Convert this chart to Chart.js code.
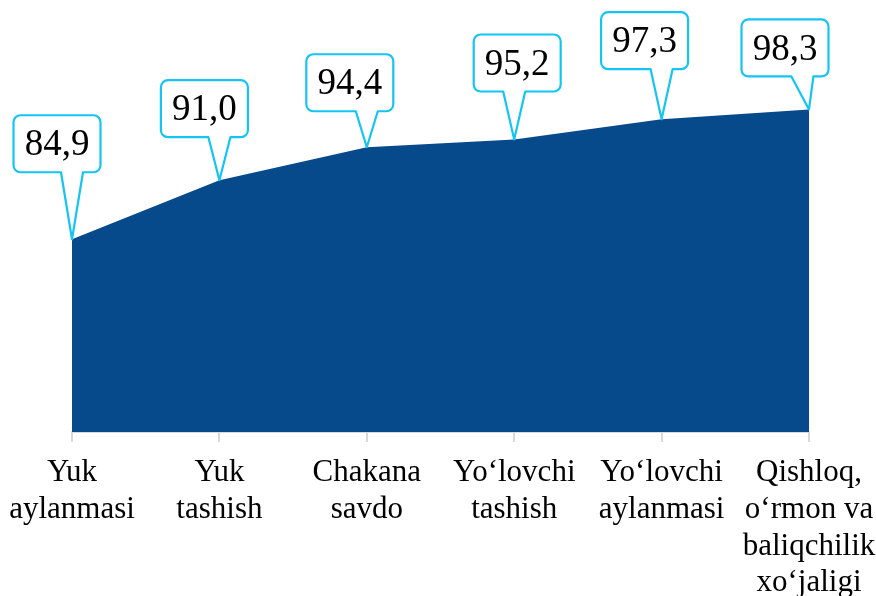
<!DOCTYPE html>
<html>
<head>
    <meta charset="UTF-8">
    <title>Area chart</title>
    <script src="https://cdn.jsdelivr.net/npm/chart.js"></script>
    <style>
        body {
            margin: 0;
            padding: 0;
            background: #ffffff;
            font-family: 'Liberation Serif', serif;
        }
        #wrap {
            width: 876px;
            height: 596px;
            position: relative;
        }
    </style>
</head>
<body>
    <div id="wrap">
        <canvas id="areaChart"></canvas>
    </div>

    <script>
        // data
        const categories = [
            ['Yuk', 'aylanmasi'],
            ['Yuk', 'tashish'],
            ['Chakana', 'savdo'],
            ['Yo\u2018lovchi', 'tashish'],
            ['Yo\u2018lovchi', 'aylanmasi'],
            ['Qishloq,', 'o\u2018rmon va', 'baliqchilik', 'xo\u2018jaligi']
        ];
        const values = [84.9, 91.0, 94.4, 95.2, 97.3, 98.3];

        // callout placement relative to its point: [box centre dx, box bottom dy]
        const calloutOffsets = [[-15, -67], [-15, -43], [-17, -36], [3, -48], [-17, -50], [-24, -33]];

        const serif = "'Liberation Serif', 'Times New Roman', serif";
        const fillBlue = '#074a8c';
        const calloutBlue = '#14c4f4';

        const calloutPlugin = {
            id: 'callouts',
            afterDatasetsDraw(chart) {
                const ctx = chart.ctx;
                const meta = chart.getDatasetMeta(0);
                const w = 87, h = 57, r = 7;
                ctx.save();
                meta.data.forEach((pt, i) => {
                    const dx = calloutOffsets[i][0];
                    const dy = calloutOffsets[i][1];
                    const cx = pt.x + dx;
                    const bottom = pt.y + dy;
                    const top = bottom - h;
                    const left = cx - w / 2;
                    const right = cx + w / 2;
                    const baseC = Math.min(Math.max(pt.x, left + 0.3 * w), right - 0.3 * w);

                    ctx.beginPath();
                    ctx.moveTo(left + r, top);
                    ctx.lineTo(right - r, top);
                    ctx.arcTo(right, top, right, top + r, r);
                    ctx.lineTo(right, bottom - r);
                    ctx.arcTo(right, bottom, right - r, bottom, r);
                    ctx.lineTo(baseC + 11, bottom);
                    ctx.lineTo(pt.x, pt.y);
                    ctx.lineTo(baseC - 11, bottom);
                    ctx.lineTo(left + r, bottom);
                    ctx.arcTo(left, bottom, left, bottom - r, r);
                    ctx.lineTo(left, top + r);
                    ctx.arcTo(left, top, left + r, top, r);
                    ctx.closePath();
                    ctx.fillStyle = '#ffffff';
                    ctx.fill();
                    ctx.lineWidth = 2.2;
                    ctx.strokeStyle = calloutBlue;
                    ctx.lineJoin = 'round';
                    ctx.stroke();

                    ctx.fillStyle = '#000000';
                    ctx.font = '37px ' + serif;
                    ctx.textAlign = 'center';
                    ctx.textBaseline = 'middle';
                    ctx.fillText(values[i].toFixed(1).replace('.', ','), cx, top + h / 2 + 2);
                });
                ctx.restore();
            }
        };

        function drawChart() {
            const ctx = document.getElementById('areaChart').getContext('2d');
            new Chart(ctx, {
                type: 'line',
                data: {
                    labels: categories,
                    datasets: [{
                        data: values,
                        backgroundColor: fillBlue,
                        borderWidth: 0,
                        pointRadius: 0,
                        fill: 'start',
                        tension: 0
                    }]
                },
                options: {
                    responsive: true,
                    maintainAspectRatio: false,
                    animation: false,
                    layout: {
                        padding: { left: 72, right: 67, top: 93, bottom: 0 }
                    },
                    plugins: {
                        legend: { display: false },
                        tooltip: { enabled: false }
                    },
                    scales: {
                        x: {
                            offset: false,
                            grid: {
                                drawOnChartArea: false,
                                tickLength: 10,
                                tickColor: '#d9d9d9',
                                lineWidth: 2
                            },
                            border: { color: '#d9d9d9', width: 2 },
                            ticks: {
                                color: '#000000',
                                padding: 13,
                                maxRotation: 0,
                                autoSkip: false,
                                font: { family: serif, size: 31, lineHeight: 1.18 }
                            },
                            afterFit(scale) {
                                scale.paddingLeft = 0;
                                scale.paddingRight = 0;
                                scale.height = 164;
                            }
                        },
                        y: {
                            display: false,
                            min: 65,
                            max: 100
                        }
                    }
                },
                plugins: [calloutPlugin]
            });
        }

        document.fonts.load("31px 'Liberation Serif'").then(drawChart, drawChart);
    </script>
</body>
</html>
